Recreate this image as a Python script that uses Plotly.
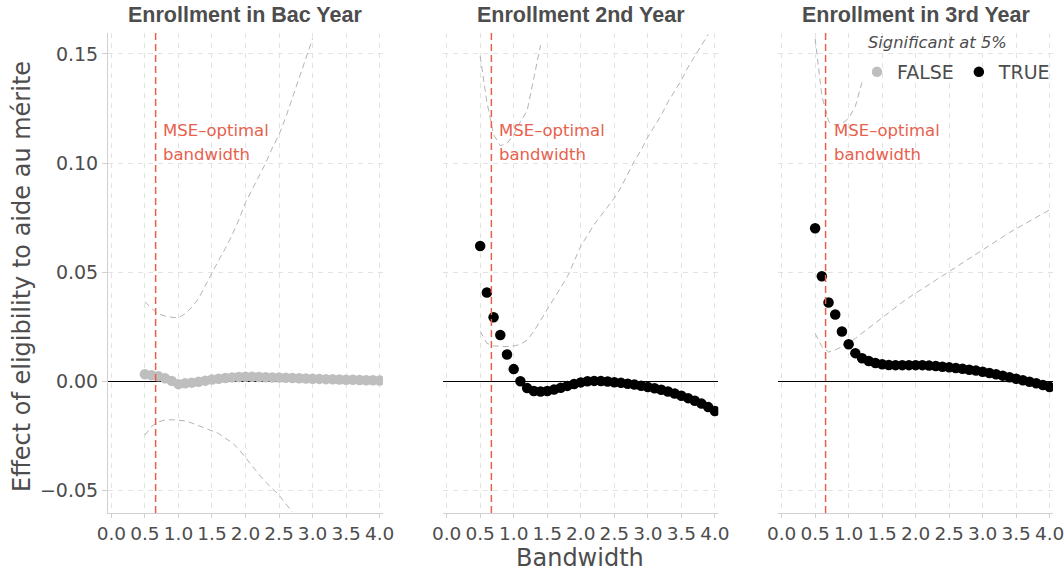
import plotly.graph_objects as go

# ---------------- data ----------------
bandwidth = [0.5, 0.6, 0.7, 0.8, 0.9, 1.0, 1.1, 1.2, 1.3, 1.4, 1.5, 1.6,
             1.7, 1.8, 1.9, 2.0, 2.1, 2.2, 2.3, 2.4, 2.5, 2.6, 2.7, 2.8,
             2.9, 3.0, 3.1, 3.2, 3.3, 3.4, 3.5, 3.6, 3.7, 3.8, 3.9, 4.0]

panel_titles = ["Enrollment in Bac Year", "Enrollment 2nd Year", "Enrollment in 3rd Year"]
mse_bw = [0.66, 0.667, 0.656]
significant = [False, True, True]

# Enrollment in Bac Year
est_bac = [0.0033, 0.0029, 0.0024, 0.0015, 0.0003, -0.0012, -0.0008, -0.0005, -0.0001, 0.0004,
           0.0009, 0.0013, 0.0016, 0.0019, 0.0021, 0.0022, 0.0022, 0.0021, 0.0020, 0.0019,
           0.0018, 0.0017, 0.0016, 0.0015, 0.0014, 0.0013, 0.0012, 0.0011, 0.0010, 0.0009,
           0.0008, 0.0008, 0.0007, 0.0006, 0.0006, 0.0005]
hi_bac = [0.0365, 0.0335, 0.0310, 0.0300, 0.0294, 0.0292, 0.0310, 0.0340, 0.0380, 0.0440,
          0.0500, 0.0555, 0.0610, 0.0670, 0.0740, 0.0820, 0.0880, 0.0940, 0.1000, 0.1070,
          0.1130, 0.1210, 0.1300, 0.1390, 0.1480, 0.1570, None, None, None, None,
          None, None, None, None, None, None]
lo_bac = [-0.0246, -0.0205, -0.0185, -0.0176, -0.0175, -0.0177, -0.0180, -0.0190, -0.0202, -0.0214,
          -0.0225, -0.0238, -0.0260, -0.0280, -0.0310, -0.0350, -0.0390, -0.0425, -0.0460, -0.0490,
          -0.0520, -0.0560, -0.0598, None, None, None, None, None, None, None,
          None, None, None, None, None, None]

# Enrollment 2nd Year
est_2nd = [0.0621, 0.0408, 0.0294, 0.0213, 0.0124, 0.0057, 0.0001, -0.0030, -0.0043, -0.0046,
           -0.0043, -0.0037, -0.0029, -0.0020, -0.0011, -0.0004, 0.0001, 0.0003, 0.0002, 0.0000,
           -0.0003, -0.0006, -0.0010, -0.0014, -0.0019, -0.0025, -0.0031, -0.0038, -0.0046, -0.0055,
           -0.0065, -0.0076, -0.0088, -0.0101, -0.0117, -0.0135]
hi_2nd = [0.1490, 0.1280, 0.1130, 0.1080, 0.1090, 0.1130, 0.1190, 0.1240, 0.1390, 0.1540,
          None, None, None, None, None, None, None, None, None, None,
          None, None, None, None, None, None, None, None, None, None,
          None, None, None, None, None, None]
lo_2nd = [0.0230, 0.0175, 0.0163, 0.0160, 0.0160, 0.0163, 0.0170, 0.0190, 0.0230, 0.0280,
          0.0330, 0.0380, 0.0430, 0.0480, 0.0550, 0.0620, 0.0670, 0.0720, 0.0760, 0.0800,
          0.0840, 0.0890, 0.0950, 0.1010, 0.1060, 0.1120, 0.1170, 0.1220, 0.1280, 0.1330,
          0.1380, 0.1440, 0.1490, 0.1540, 0.1590, None]

# Enrollment in 3rd Year
est_3rd = [0.0702, 0.0482, 0.0362, 0.0307, 0.0229, 0.0171, 0.0130, 0.0107, 0.0094, 0.0085,
           0.0079, 0.0076, 0.0075, 0.0075, 0.0075, 0.0075, 0.0075, 0.0073, 0.0071, 0.0068,
           0.0065, 0.0062, 0.0058, 0.0054, 0.0050, 0.0045, 0.0039, 0.0033, 0.0027, 0.0020,
           0.0013, 0.0006, -0.0001, -0.0008, -0.0016, -0.0025]
hi_3rd = [0.1570, 0.1310, 0.1190, 0.1175, 0.1180, 0.1205, 0.1260, 0.1370, None, None,
          None, None, None, None, None, None, None, None, None, None,
          None, None, None, None, None, None, None, None, None, None,
          None, None, None, None, None, None]
lo_3rd = [0.0220, 0.0160, 0.0135, 0.0145, 0.0160, 0.0174, 0.0198, 0.0222, 0.0246, 0.0270,
          0.0293, 0.0317, 0.0340, 0.0363, 0.0385, 0.0405, 0.0425, 0.0444, 0.0464, 0.0484,
          0.0503, 0.0523, 0.0543, 0.0564, 0.0584, 0.0604, 0.0624, 0.0644, 0.0663, 0.0682,
          0.0700, 0.0718, 0.0735, 0.0752, 0.0769, 0.0786]

x_tickvals = [0.0, 0.5, 1.0, 1.5, 2.0, 2.5, 3.0, 3.5, 4.0]
x_ticktext = ["0.0", "0.5", "1.0", "1.5", "2.0", "2.5", "3.0", "3.5", "4.0"]
y_tickvals = [-0.05, 0.0, 0.05, 0.10, 0.15]
y_ticktext = ["\u22120.05", "0.00", "0.05", "0.10", "0.15"]

# ---------------- styling ----------------
GRAY_PT = "#bebebe"
BLACK_PT = "#000000"
CI_COL = "#b3b3b3"
RED = "#e8604c"
GRID = "#e3e3e3"
AXIS = "#d0d0d0"
TXT = "#4d4d4d"
FONT = "DejaVu Sans"

W_PLOT = 945.0
H_PLOT = 480.0

estimates = [est_bac, est_2nd, est_3rd]
highs = [hi_bac, hi_2nd, hi_3rd]
lows = [lo_bac, lo_2nd, lo_3rd]

domains = [[0.0, 0.291], [0.3548, 0.6458], [0.7093, 1.0]]
xr = [-0.05, 4.05]
yr = [-0.0602, 0.1596]

fig = go.Figure()
legend_shown = set()
for i in range(3):
    xa = "x" if i == 0 else f"x{i+1}"
    ya = "y" if i == 0 else f"y{i+1}"
    for ci in (highs[i], lows[i]):
        fig.add_trace(go.Scatter(
            x=bandwidth, y=ci, mode="lines", xaxis=xa, yaxis=ya,
            line=dict(color=CI_COL, width=1, dash="6px,4px"),
            connectgaps=False, showlegend=False, hoverinfo="skip"))
    sig = significant[i]
    name = "TRUE" if sig else "FALSE"
    fig.add_trace(go.Scatter(
        x=bandwidth, y=estimates[i], mode="markers", xaxis=xa, yaxis=ya,
        marker=dict(color=BLACK_PT if sig else GRAY_PT, size=10.5),
        name=name, legendgroup=name, showlegend=name not in legend_shown))
    legend_shown.add(name)

layout = dict(
    width=1064, height=572,
    margin=dict(l=108, r=11, t=33, b=59, autoexpand=False),
    plot_bgcolor="white", paper_bgcolor="white",
    font=dict(family=FONT, color=TXT),
    legend=dict(
        orientation="h", x=(857 - 108) / W_PLOT, xanchor="left",
        y=(513 - 53) / H_PLOT, yanchor="top",
        bgcolor="rgba(0,0,0,0)",
        font=dict(family=FONT, size=19, color=TXT),
    ),
)

shapes = []
annotations = []
for i in range(3):
    xkey = "xaxis" if i == 0 else f"xaxis{i+1}"
    ykey = "yaxis" if i == 0 else f"yaxis{i+1}"
    xa = "x" if i == 0 else f"x{i+1}"
    ya = "y" if i == 0 else f"y{i+1}"
    layout[xkey] = dict(
        domain=domains[i], anchor=ya, range=xr,
        tickvals=x_tickvals, ticktext=x_ticktext,
        showgrid=True, gridcolor=GRID, gridwidth=1, griddash="5px,5px",
        showline=True, linecolor=AXIS, linewidth=1,
        ticks="outside", ticklen=4, tickcolor=AXIS,
        tickfont=dict(family=FONT, size=18.5, color=TXT),
        ticklabeloverflow="allow",
        zeroline=False,
    )
    ydict = dict(
        domain=[0, 1], anchor=xa, range=yr,
        tickvals=y_tickvals, ticktext=y_ticktext,
        showgrid=True, gridcolor=GRID, gridwidth=1, griddash="5px,5px",
        zeroline=True, zerolinecolor="#000000", zerolinewidth=1.4,
    )
    if i == 0:
        ydict.update(showline=True, linecolor=AXIS, linewidth=1,
                     ticks="outside", ticklen=5, tickcolor=AXIS,
                     tickfont=dict(family=FONT, size=19, color=TXT))
    else:
        ydict.update(showline=False, showticklabels=False, ticks="")
        ydict["matches"] = "y"
    layout[ykey] = ydict

    shapes.append(dict(type="line", xref=xa, yref=f"{ya} domain",
                       x0=mse_bw[i], x1=mse_bw[i], y0=0, y1=1,
                       line=dict(color=RED, width=1.5, dash="7px,4px"), layer="above"))
    for txt, ypix in (("MSE\u2013optimal", 130.5), ("bandwidth", 154.5)):
        annotations.append(dict(
            text=txt, xref=xa, yref="paper",
            x=0.745, y=(513 - ypix) / H_PLOT, xanchor="left", yanchor="middle",
            align="left", showarrow=False,
            font=dict(family=FONT, size=16.5, color=RED)))
    annotations.append(dict(
        text=f"<b>{panel_titles[i]}</b>", xref="paper", yref="paper",
        x=(domains[i][0] + domains[i][1]) / 2, y=1 + (33 - 15) / H_PLOT,
        xanchor="center", yanchor="middle", showarrow=False,
        font=dict(family="Liberation Sans", size=21.5, color=TXT)))

# legend title
annotations.append(dict(
    text="<i>Significant at 5%</i>", xref="paper", yref="paper",
    x=(866 - 108) / W_PLOT, y=(513 - 42) / H_PLOT, xanchor="left", yanchor="middle",
    showarrow=False, font=dict(family=FONT, size=16.3, color=TXT)))

annotations.append(dict(
    text="Effect of eligibility to aide au m\u00e9rite", xref="paper", yref="paper",
    x=-86 / W_PLOT, y=(513 - 277) / H_PLOT, xanchor="center", yanchor="middle",
    textangle=-90, showarrow=False, font=dict(family=FONT, size=24, color=TXT)))
annotations.append(dict(
    text="Bandwidth", xref="paper", yref="paper",
    x=(580 - 108) / W_PLOT, y=-(558 - 513) / H_PLOT, xanchor="center", yanchor="middle",
    showarrow=False, font=dict(family=FONT, size=24, color=TXT)))

layout["shapes"] = shapes
layout["annotations"] = annotations
fig.update_layout(**layout)

fig.write_html("out.html")
